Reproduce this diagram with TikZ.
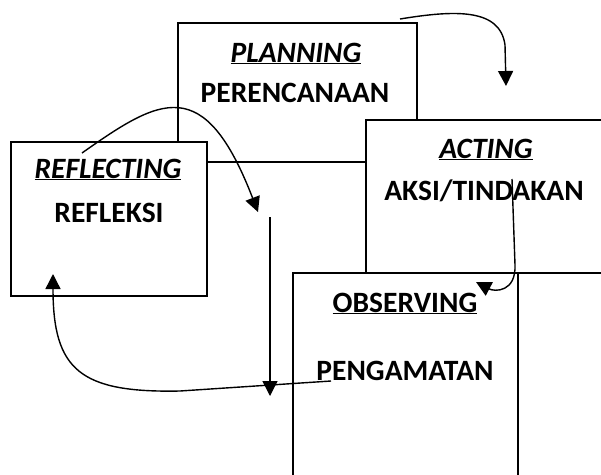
\documentclass[tikz,border=0pt]{standalone}
\usepackage{fontspec}
\setmainfont{Carlito}
\usetikzlibrary{arrows.meta}

\begin{document}
\begin{tikzpicture}[x=1pt, y=-1pt, line width=1.6pt,
    stage/.style={draw, fill=white},
    word/.style={anchor=base, inner sep=0pt, font=\fontsize{29.5}{34}\selectfont\bfseries},
    flow/.style={-{Triangle[length=15pt,width=15pt]}, line width=1.4pt}]
  \useasboundingbox (0,0) rectangle (601,474);

  % Draw the four boxes, each one over the one before
  \draw[stage] (178,23) rectangle (417,162);
  \draw[stage] (11,142) rectangle (207,296);
  \draw[stage] (366,120) rectangle (640,273);
  \draw[stage] (293,273) rectangle (518,500);

  % Draw the labels
  \node[word] (plan) at (296,62) {\underline{\textit{PLANNING}}};
  \node[word] (plan-id) at (295,102) {PERENCANAAN};

  \node[word] (refl) at (108,178) {\underline{\textit{REFLECTING}}};
  \node[word] (refl-id) at (109,222) {REFLEKSI};

  \node[word] (act) at (486,158) {\underline{\textit{ACTING}}};
  \node[word] (act-id) at (484,200) {AKSI/TINDAKAN};

  \node[word] (obs) at (405,312) {\underline{OBSERVING}};
  \node[word] (obs-id) at (405,380) {PENGAMATAN};

  % Arrow ends
  \coordinate (p-out) at (400,19);
  \coordinate (a-in) at (506,86);
  \coordinate (r-out) at (82,153);
  \coordinate (m-in) at (258,212);
  \coordinate (m-top) at (270,217);
  \coordinate (m-bot) at (270,396);
  \coordinate (a-out) at (512,179);
  \coordinate (o-in) at (476,282);
  \coordinate (o-out) at (331,381);
  \coordinate (r-in) at (53,274);

  % Draw the cycle arrows
  \draw[flow] (p-out) .. controls (455,10) and (500,8) .. (505,45) -- (a-in);
  \draw[flow] (r-out) .. controls (160,98) and (204,72) .. (m-in);
  \draw[flow] (m-top) -- (m-bot);
  \draw[flow] (a-out) -- (515,265) .. controls (516,292) and (495,292) .. (o-in);
  \draw[flow] (o-out) -- (180,391) .. controls (80,393) and (53,370) .. (r-in);

\end{tikzpicture}
\end{document}
